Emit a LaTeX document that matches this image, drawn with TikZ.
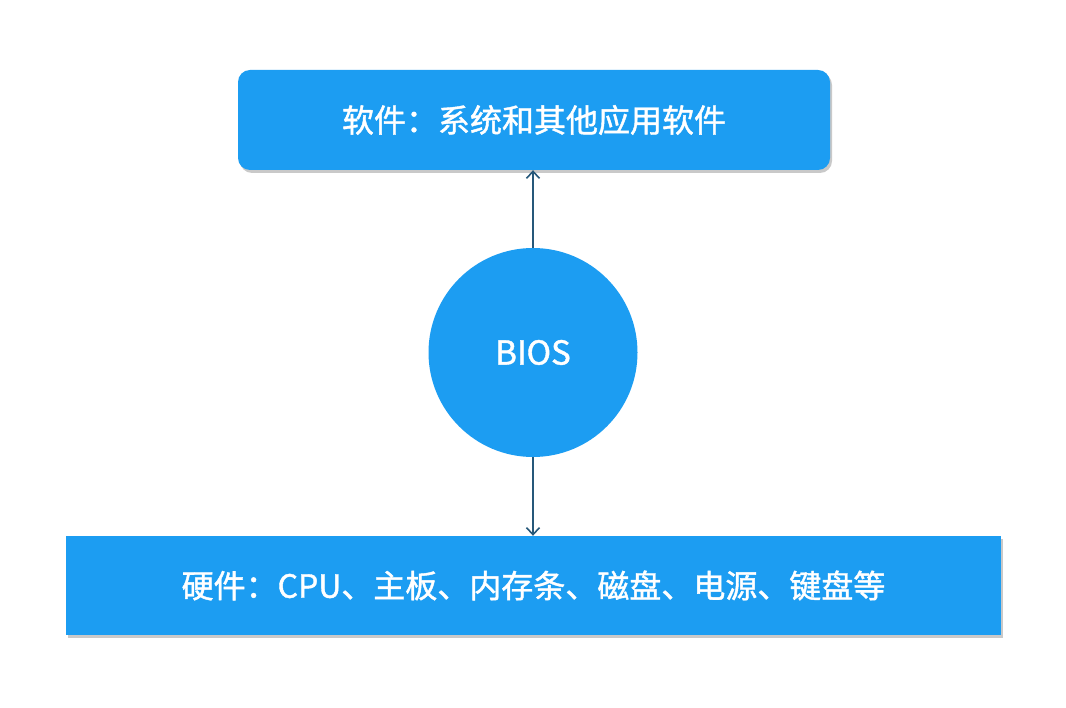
\documentclass[tikz,border=0pt]{standalone}
\usepackage{fontspec}
\newfontfamily\cjk[FakeBold=1.3]{Noto Sans CJK SC}
\usetikzlibrary{shadows,arrows.meta}
\definecolor{boxblue}{RGB}{28,157,242}
\definecolor{arrowcol}{RGB}{38,88,122}
\tikzset{
  topbox/.style={fill=boxblue, rounded corners=12pt, minimum width=592pt, minimum height=100pt,
    drop shadow={shadow xshift=2pt, shadow yshift=-3pt, opacity=0.35, fill=black!60},
    text=white, font=\cjk\fontsize{32}{38}\selectfont, inner sep=0pt},
  botbox/.style={fill=boxblue, minimum width=935pt, minimum height=99pt,
    drop shadow={shadow xshift=2pt, shadow yshift=-3pt, opacity=0.35, fill=black!60},
    text=white, font=\cjk\fontsize{32}{38}\selectfont, inner sep=0pt},
  bioscircle/.style={circle, fill=boxblue, minimum size=209pt, inner sep=0pt,
    text=white, font=\cjk\fontsize{33}{38}\selectfont},
  conn/.style={draw=arrowcol, line width=1.6pt, -{Straight Barb[length=7pt,width=13pt,line width=1.6pt]}}
}
\begin{document}
\begin{tikzpicture}[x=1pt,y=-1pt]
\useasboundingbox[fill=white] (0,0) rectangle (1066,708);
\node[topbox] (sw) at (534,120) {软件：系统和其他应用软件};
\node[botbox] (hw) at (533.5,585.5) {硬件：CPU、主板、内存条、磁盘、电源、键盘等};
\node[bioscircle] (bios) at (533,352.5) {BIOS};
\draw[conn] (bios.north) -- (sw.south -| bios.north);
\draw[conn] (bios.south) -- (hw.north -| bios.south);
\end{tikzpicture}
\end{document}
